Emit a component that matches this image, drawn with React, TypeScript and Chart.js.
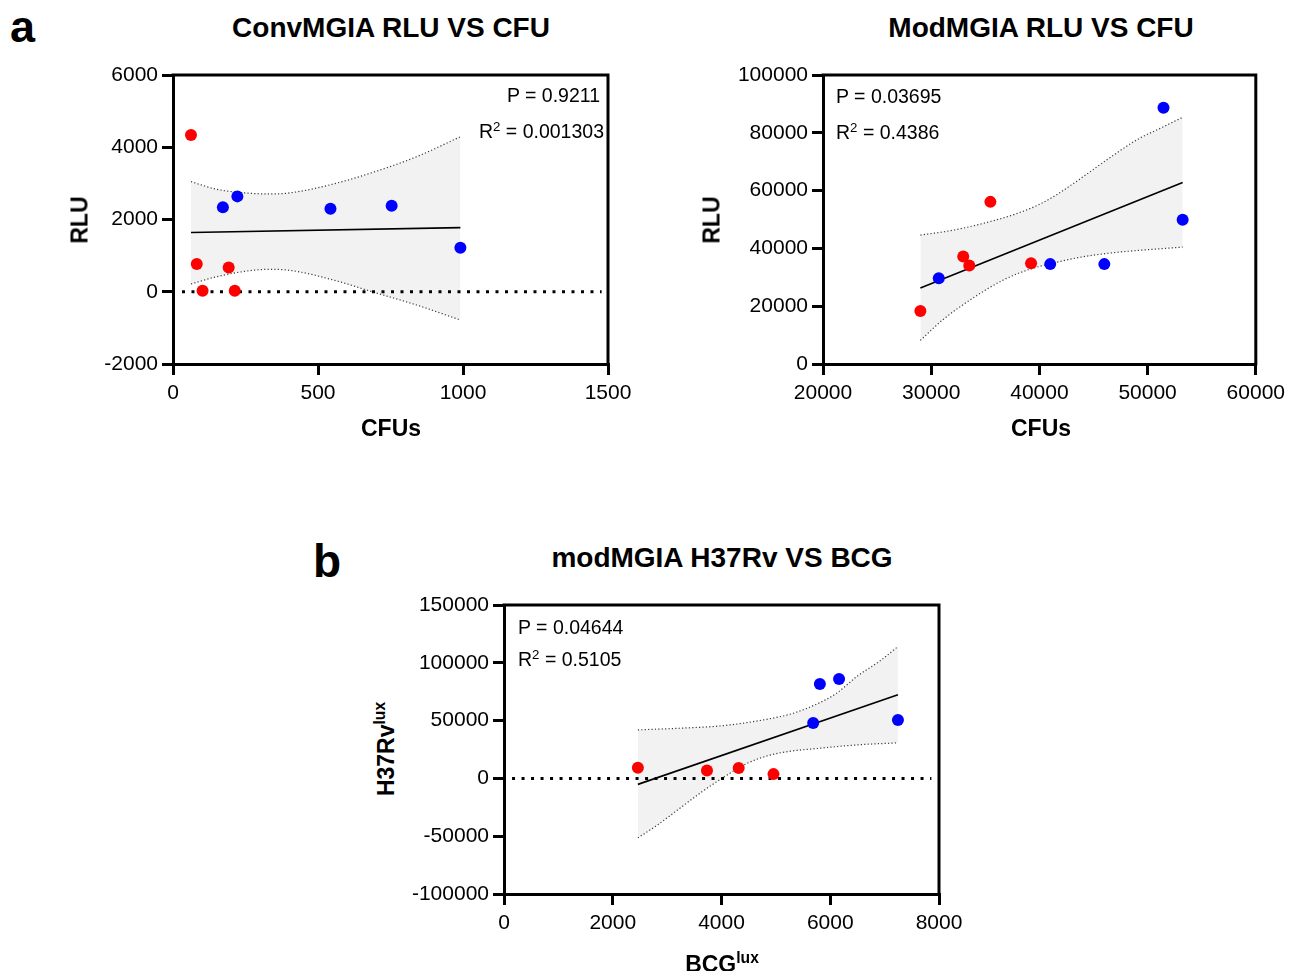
import React, { useEffect, useRef } from "react";
import { Chart, registerables } from "chart.js";

Chart.register(...registerables);

const FONT = '"Liberation Sans", Arial, Helvetica, sans-serif';

// ---------- Panel a (left): ConvMGIA RLU VS CFU ----------
const c1RedX = [62, 82, 102, 192, 213];
const c1RedY = [4340, 770, 30, 670, 30];
const c1BlueX = [172, 222, 543, 754, 991];
const c1BlueY = [2340, 2640, 2300, 2380, 1220];
const c1FitX = [62, 991];
const c1FitY = [1640, 1775];
const c1BandX = [62, 151, 266, 337, 409, 553, 697, 840, 991];
const c1UpperY = [3047, 2836, 2726, 2707, 2743, 2983, 3325, 3738, 4291];
const c1LowerY = [215, 418, 585, 622, 585, 325, -25, -367, -782];
const c1ZeroX = [31, 1478];
const c1XTicks = [0, 1500, 500];
const c1YTicks = [-2000, 6000, 2000];

// ---------- Panel a (right): ModMGIA RLU VS CFU ----------
const c2RedX = [29000, 32960, 33520, 35470, 39230];
const c2RedY = [18300, 37200, 34100, 56100, 34900];
const c2BlueX = [30700, 41000, 46000, 51470, 53240];
const c2BlueY = [29700, 34560, 34560, 88700, 49900];
const c2FitX = [29000, 53240];
const c2FitY = [26270, 62790];
const c2UpperX = [29000, 32210, 35470, 37840, 40090, 41600, 43850, 46480, 49110, 51360, 53240];
const c2UpperY = [44590, 46430, 49310, 51960, 55400, 58600, 64300, 71300, 77800, 81900, 85370];
const c2LowerX = [29000, 31080, 34090, 36710, 38970, 41600, 43850, 46480, 49110, 53240];
const c2LowerY = [8180, 15320, 23390, 29150, 32600, 35200, 36980, 38360, 39290, 40440];
const c2XTicks = [20000, 60000, 10000];
const c2YTicks = [0, 100000, 20000];

// ---------- Panel b: modMGIA H37Rv VS BCG ----------
const c3RedX = [2462, 3733, 4316, 4956];
const c3RedY = [9200, 6900, 8900, 3700];
const c3BlueX = [5686, 5809, 6162, 7245];
const c3BlueY = [48000, 81600, 85900, 50600];
const c3FitX = [2462, 7245];
const c3FitY = [-5170, 72410];
const c3UpperX = [2462, 3225, 4045, 4866, 5276, 5686, 6096, 6507, 6917, 7245];
const c3UpperY = [41950, 43390, 45690, 51440, 55750, 62930, 72990, 88790, 101720, 114080];
const c3LowerX = [2462, 2815, 3225, 3635, 4045, 4455, 4866, 5276, 5686, 6507, 7245];
const c3LowerY = [-51440, -40520, -26150, -11780, 1150, 12640, 19830, 23560, 25580, 29020, 30750];
const c3ZeroX = [148, 7860];
const c3XTicks = [0, 8000, 2000];
const c3YTicks = [-100000, 150000, 50000];

type Pt = { x: number; y: number };
const pts = (xs: number[], ys: number[]): Pt[] => xs.map((x, i) => ({ x, y: ys[i] }));

type PanelCfg = {
  left: number;
  top: number;
  w: number;
  h: number;
  yw: number;
  xh: number;
  padTop: number;
  padRight: number;
  xTicks: number[];
  yTicks: number[];
  red: Pt[];
  blue: Pt[];
  fit: Pt[];
  upper: Pt[];
  lower: Pt[];
  zero: Pt[] | null;
};

const panels: PanelCfg[] = [
  {
    left: 70, top: 55, w: 580, h: 370, yw: 103, xh: 61, padTop: 20, padRight: 42,
    xTicks: c1XTicks, yTicks: c1YTicks,
    red: pts(c1RedX, c1RedY), blue: pts(c1BlueX, c1BlueY), fit: pts(c1FitX, c1FitY),
    upper: pts(c1BandX, c1UpperY), lower: pts(c1BandX, c1LowerY),
    zero: pts(c1ZeroX, [0, 0]),
  },
  {
    left: 720, top: 55, w: 571, h: 370, yw: 103, xh: 61, padTop: 20, padRight: 32,
    xTicks: c2XTicks, yTicks: c2YTicks,
    red: pts(c2RedX, c2RedY), blue: pts(c2BlueX, c2BlueY), fit: pts(c2FitX, c2FitY),
    upper: pts(c2UpperX, c2UpperY), lower: pts(c2LowerX, c2LowerY),
    zero: null,
  },
  {
    left: 400, top: 585, w: 590, h: 370, yw: 104, xh: 61, padTop: 20, padRight: 51,
    xTicks: c3XTicks, yTicks: c3YTicks,
    red: pts(c3RedX, c3RedY), blue: pts(c3BlueX, c3BlueY), fit: pts(c3FitX, c3FitY),
    upper: pts(c3UpperX, c3UpperY), lower: pts(c3LowerX, c3LowerY),
    zero: pts(c3ZeroX, [0, 0]),
  },
];

const framePlugin = {
  id: "frameBox",
  afterDraw(chart: any) {
    const { ctx, chartArea: a } = chart;
    ctx.save();
    ctx.strokeStyle = "#000";
    ctx.lineWidth = 3;
    ctx.lineCap = "square";
    ctx.beginPath();
    ctx.moveTo(a.left, a.top);
    ctx.lineTo(a.right, a.top);
    ctx.lineTo(a.right, a.bottom);
    ctx.stroke();
    ctx.restore();
  },
};

function axis(t: number[], pos: "bottom" | "left", fitSize: number, pad: number) {
  return {
    type: "linear" as const,
    position: pos,
    min: t[0],
    max: t[1],
    ticks: {
      stepSize: t[2],
      color: "#000",
      font: { family: FONT, size: 21 },
      padding: pad,
      autoSkip: false,
      maxRotation: 0,
      callback: (v: any) => String(v),
    },
    grid: {
      drawOnChartArea: false,
      drawTicks: true,
      tickLength: 11,
      tickWidth: 3,
      lineWidth: 3,
      tickColor: "#000",
      color: "#000",
    },
    border: { display: true, color: "#000", width: 3 },
    afterFit: (s: any) => {
      if (pos === "bottom") s.height = fitSize;
      else s.width = fitSize;
    },
  };
}

function buildConfig(p: PanelCfg): any {
  const lineBase = {
    type: "line",
    pointRadius: 0,
    pointHoverRadius: 0,
    tension: 0,
  };
  const datasets: any[] = [
    {
      ...lineBase,
      data: p.lower,
      borderColor: "#3a3a3a",
      borderWidth: 1.2,
      borderDash: [1.2, 2.2],
      cubicInterpolationMode: "monotone",
      fill: false,
      order: 6,
    },
    {
      ...lineBase,
      data: p.upper,
      borderColor: "#3a3a3a",
      borderWidth: 1.2,
      borderDash: [1.2, 2.2],
      cubicInterpolationMode: "monotone",
      fill: "-1",
      backgroundColor: "#f2f2f2",
      order: 5,
    },
  ];
  if (p.zero) {
    datasets.push({
      ...lineBase,
      data: p.zero,
      borderColor: "#000",
      borderWidth: 3,
      borderDash: [3, 6.5],
      fill: false,
      order: 4,
    });
  }
  datasets.push(
    {
      ...lineBase,
      data: p.fit,
      borderColor: "#000",
      borderWidth: 1.6,
      fill: false,
      order: 3,
    },
    {
      type: "scatter",
      data: p.red,
      backgroundColor: "#ff0000",
      borderWidth: 0,
      pointRadius: 6,
      order: 2,
    },
    {
      type: "scatter",
      data: p.blue,
      backgroundColor: "#0000ff",
      borderWidth: 0,
      pointRadius: 6,
      order: 1,
    }
  );
  return {
    type: "scatter",
    data: { datasets },
    plugins: [framePlugin],
    options: {
      responsive: false,
      maintainAspectRatio: false,
      animation: false,
      devicePixelRatio: 1,
      events: [],
      layout: { padding: { left: 0, top: p.padTop, right: p.padRight, bottom: 0 } },
      plugins: {
        legend: { display: false },
        tooltip: { enabled: false },
        title: { display: false },
        filler: { propagate: false, drawTime: "beforeDatasetsDraw" },
      },
      scales: {
        x: axis(p.xTicks, "bottom", p.xh, 6),
        y: axis(p.yTicks, "left", p.yw, 4),
      },
    },
  };
}

function ChartPanel({ p }: { p: PanelCfg }) {
  const ref = useRef<HTMLCanvasElement | null>(null);
  useEffect(() => {
    if (!ref.current) return;
    const chart = new Chart(ref.current, buildConfig(p));
    return () => chart.destroy();
  }, [p]);
  return (
    <canvas
      ref={ref}
      width={p.w}
      height={p.h}
      style={{ position: "absolute", left: p.left, top: p.top, width: p.w, height: p.h }}
    />
  );
}

type TProps = {
  x: number;
  y: number; // baseline for horizontal, center for rotated
  size: number;
  bold?: boolean;
  anchor?: "start" | "middle" | "end";
  rotate?: boolean;
  children: React.ReactNode;
};

function T({ x, y, size, bold, anchor = "start", rotate, children }: TProps) {
  const base: React.CSSProperties = {
    position: "absolute",
    fontFamily: FONT,
    fontSize: size,
    fontWeight: bold ? 700 : 400,
    lineHeight: `${size}px`,
    whiteSpace: "nowrap",
    color: "#000",
  };
  if (rotate) {
    return (
      <div style={{ ...base, left: x, top: y, transform: "translate(-50%, -50%) rotate(-90deg)" }}>
        {children}
      </div>
    );
  }
  const tx = anchor === "middle" ? "translateX(-50%)" : anchor === "end" ? "translateX(-100%)" : "none";
  return <div style={{ ...base, left: x, top: y - 0.8465 * size, transform: tx }}>{children}</div>;
}

const supStyle: React.CSSProperties = { fontSize: "0.68em", verticalAlign: "super", lineHeight: 0 };

export default function App() {
  return (
    <div
      style={{
        position: "absolute",
        left: 0,
        top: 0,
        width: 1291,
        height: 971,
        background: "#fff",
        overflow: "hidden",
      }}
    >
      {panels.map((p, i) => (
        <ChartPanel key={i} p={p} />
      ))}

      <T x={10} y={42} size={45} bold>a</T>
      <T x={313} y={577} size={46} bold>b</T>

      <T x={391} y={37.5} size={28} bold anchor="middle">ConvMGIA RLU VS CFU</T>
      <T x={1041} y={37.5} size={28} bold anchor="middle">ModMGIA RLU VS CFU</T>
      <T x={722} y={567.5} size={28} bold anchor="middle">modMGIA H37Rv VS BCG</T>

      <T x={80} y={220} size={23} bold rotate>RLU</T>
      <T x={712} y={220} size={23} bold rotate>RLU</T>
      <T x={391} y={436} size={23} bold anchor="middle">CFUs</T>
      <T x={1041} y={436} size={23} bold anchor="middle">CFUs</T>
      <T x={386} y={749} size={23} bold rotate>
        H37Rv<sup style={supStyle}>lux</sup>
      </T>
      <T x={722} y={972} size={23} bold anchor="middle">
        BCG<sup style={supStyle}>lux</sup>
      </T>

      <T x={600} y={102.5} size={19.5} anchor="end">P = 0.9211</T>
      <T x={604} y={138.5} size={19.5} anchor="end">
        R<sup style={supStyle}>2</sup> = 0.001303
      </T>
      <T x={836} y={103.5} size={19.5}>P = 0.03695</T>
      <T x={836} y={140} size={19.5}>
        R<sup style={supStyle}>2</sup> = 0.4386
      </T>
      <T x={518} y={635} size={19.5}>P = 0.04644</T>
      <T x={518} y={667} size={19.5}>
        R<sup style={supStyle}>2</sup> = 0.5105
      </T>
    </div>
  );
}
